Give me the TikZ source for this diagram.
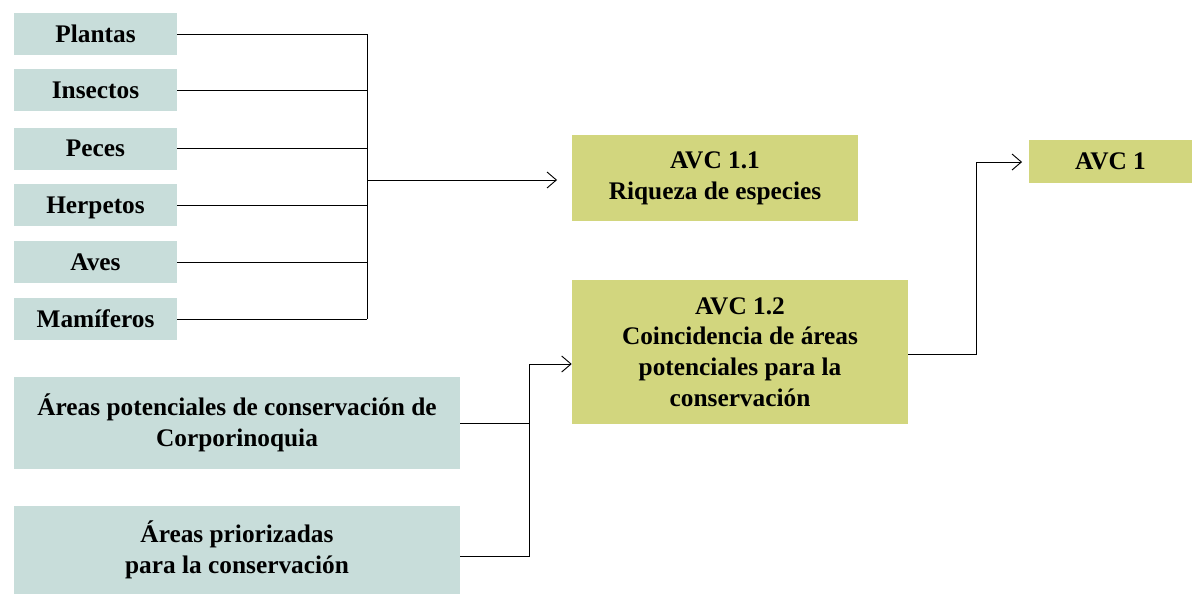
\documentclass[tikz,border=0pt]{standalone}
\usepackage{fontspec}
\setmainfont{Liberation Serif}
\usetikzlibrary{arrows.meta}
\definecolor{grisverde}{RGB}{200,221,218}
\definecolor{verdeavc}{RGB}{210,214,126}

\begin{document}
\begin{tikzpicture}[x=0.75pt, y=-0.75pt, font=\bfseries\fontsize{19}{23}\selectfont]
    % Define styles
    \tikzstyle{grupo} = [rectangle, minimum width=122.25pt, minimum height=31.5pt, inner sep=0pt, text height=12.6pt, text depth=0pt, text centered, fill=grisverde]
    \tikzstyle{area} = [rectangle, minimum width=334.5pt, inner sep=0pt, align=center, fill=grisverde]
    \tikzstyle{avc} = [rectangle, inner sep=0pt, align=center, fill=verdeavc]
    \tikzstyle{linea} = [line width=0.7pt]
    \tikzstyle{arrow} = [linea, -{Straight Barb[length=7pt, width=12pt]}]

    \useasboundingbox (0,0) rectangle (1192,594);

    % Grupos biologicos
    \node [grupo] (plantas) at (95.5,34) {Plantas};
    \node [grupo] (insectos) at (95.5,90) {Insectos};
    \node [grupo] (peces) at (95.5,148.5) {Peces};
    \node [grupo] (herpetos) at (95.5,205) {Herpetos};
    \node [grupo] (aves) at (95.5,262) {Aves};
    \node [grupo] (mamiferos) at (95.5,319) {Mamíferos};

    % Areas
    \node [area, minimum height=69pt] (potenciales) at (237,423) {Áreas potenciales de conservación de\\Corporinoquia};
    \node [area, minimum height=66pt] (priorizadas) at (237,550) {Áreas priorizadas\\para la conservación};

    % AVC
    \node [avc, minimum width=214.5pt, minimum height=64.5pt] (avc11) at (715,178) {AVC 1.1\\Riqueza de especies};
    \node [avc, minimum width=252pt, minimum height=108pt] (avc12) at (740,352) {AVC 1.2\\Coincidencia de áreas\\potenciales para la\\conservación};
    \node [avc, minimum width=122.25pt, minimum height=32.25pt] (avc1) at (1110.5,161.5) {AVC 1};

    % Conectores
    \coordinate (bus1) at (367,180);
    \coordinate (bus2) at (529,364);
    \coordinate (bus3) at (976,162);
    \foreach \n in {plantas,insectos,peces,herpetos,aves,mamiferos}
        \draw [linea] (\n.east) -- (\n.east -| bus1);
    \draw [linea] (plantas.east -| bus1) -- (mamiferos.east -| bus1);
    \draw [arrow, shorten >=11pt] (bus1) -- (bus1 -| avc11.west);

    \draw [linea] (potenciales.east) -- (potenciales.east -| bus2);
    \draw [linea] ([yshift=-5pt]priorizadas.east) -| (bus2);
    \draw [arrow] (bus2) -- (bus2 -| avc12.west);

    \draw [linea] ([yshift=-2pt]avc12.east) -| (bus3);
    \draw [arrow, shorten >=5pt] (bus3) -- (bus3 -| avc1.west);
\end{tikzpicture}
\end{document}
